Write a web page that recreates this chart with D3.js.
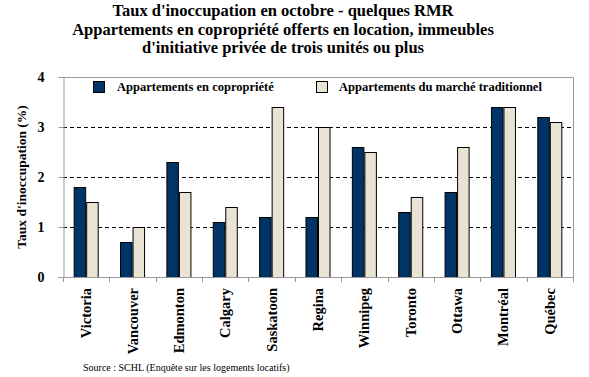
<!DOCTYPE html>
<html lang="fr">
<head>
  <meta charset="utf-8">
  <title>Taux d'inoccupation</title>
  <style>
    body { margin: 0; background: #fff; }
    text { font-family: "Liberation Serif", "Times New Roman", serif; fill: #000; }
  </style>
</head>
<body>
  <div id="chart"></div>
  <script src="https://d3js.org/d3.v7.min.js"></script>
  <script type="text/javascript">
    const villes = ['Victoria', 'Vancouver', 'Edmonton', 'Calgary', 'Saskatoon', 'Regina',
      'Winnipeg', 'Toronto', 'Ottawa', 'Montréal', 'Québec'];
    const copro = [1.8, 0.7, 2.3, 1.1, 1.2, 1.2, 2.6, 1.3, 1.7, 3.4, 3.2];
    const traditionnel = [1.5, 1.0, 1.7, 1.4, 3.4, 3.0, 2.5, 1.6, 2.6, 3.4, 3.1];
    const series = ['Appartements en copropriété', 'Appartements du marché traditionnel'];
    const yTicks = [0, 1, 2, 3, 4];
    const titre = [
      "Taux d'inoccupation en octobre - quelques RMR",
      "Appartements en copropriété offerts en location, immeubles",
      "d'initiative privée de trois unités ou plus"
    ];

    const width = 589;
    const height = 377;
    const margin = { top: 77, right: 16, bottom: 100, left: 63 };
    const colors = ['#003366', '#e8e3d3'];

    const rows = villes.map((v, i) => ({ ville: v, vals: [copro[i], traditionnel[i]] }));

    const svg = d3.select('#chart').append('svg')
      .attr('width', width)
      .attr('height', height);

    const x0 = d3.scaleBand()
      .domain(villes)
      .range([margin.left, width - margin.right])
      .paddingInner(0.46)
      .paddingOuter(0.23);
    const x1 = d3.scaleBand()
      .domain([0, 1])
      .range([0, x0.bandwidth()]);
    const y = d3.scaleLinear()
      .domain([0, 4])
      .range([height - margin.bottom, margin.top]);

    // title
    svg.append('g').selectAll('text')
      .data(titre)
      .enter().append('text')
      .attr('x', 283)
      .attr('y', (d, i) => 16 + i * 18.5)
      .attr('text-anchor', 'middle')
      .style('font-size', '16.5px')
      .style('font-weight', 'bold')
      .text(d => d);

    // grid lines
    svg.append('g').selectAll('line')
      .data(yTicks.filter(t => t > 0 && t < 4))
      .enter().append('line')
      .attr('x1', margin.left)
      .attr('x2', width - margin.right)
      .attr('y1', d => y(d) + 0.5)
      .attr('y2', d => y(d) + 0.5)
      .attr('stroke', '#000')
      .attr('stroke-dasharray', '4,3');

    // plot border top/right
    svg.append('path')
      .attr('d', `M${margin.left},${y(4) + 0.5}H${width - margin.right + 0.5}V${y(0)}`)
      .attr('fill', 'none')
      .attr('stroke', '#999');

    // bars
    const groups = svg.append('g').selectAll('g')
      .data(rows)
      .enter().append('g')
      .attr('transform', d => `translate(${x0(d.ville)},0)`);
    groups.selectAll('rect')
      .data(d => d.vals)
      .enter().append('rect')
      .attr('x', (d, i) => x1(i) + 0.5)
      .attr('y', d => y(d) + 0.5)
      .attr('width', x1.bandwidth() - 1)
      .attr('height', d => y(0) - y(d))
      .attr('fill', (d, i) => colors[i])
      .attr('stroke', '#000')
      .attr('stroke-width', 1);

    // y axis
    const yAxis = svg.append('g')
      .attr('transform', `translate(${margin.left + 0.5},0)`)
      .call(d3.axisLeft(y).tickValues(yTicks).tickSize(5).tickPadding(14).tickFormat(d3.format('d')));
    yAxis.select('.domain').attr('stroke', '#999');
    yAxis.selectAll('.tick line').attr('stroke', '#999');
    yAxis.selectAll('text')
      .style('font-size', '14px')
      .style('font-weight', 'bold')
      .style('font-family', '"Liberation Serif", serif');

    // x axis: ticks at category boundaries
    svg.append('line')
      .attr('x1', margin.left)
      .attr('x2', width - margin.right + 0.5)
      .attr('y1', y(0) + 0.5)
      .attr('y2', y(0) + 0.5)
      .attr('stroke', '#999');
    const step = x0.step();
    const start = x0(villes[0]) - x0.paddingOuter() * step;
    svg.append('g').selectAll('line')
      .data(d3.range(villes.length + 1))
      .enter().append('line')
      .attr('x1', i => Math.round(start + i * step) + 0.5)
      .attr('x2', i => Math.round(start + i * step) + 0.5)
      .attr('y1', y(0))
      .attr('y2', y(0) + 5)
      .attr('stroke', '#999');

    svg.append('g').selectAll('text')
      .data(villes)
      .enter().append('text')
      .attr('transform', d => `translate(${x0(d) + x0.bandwidth() / 2 + 5},${y(0) + 11}) rotate(-90)`)
      .attr('text-anchor', 'end')
      .style('font-size', '14.5px')
      .style('font-weight', 'bold')
      .text(d => d);

    // y axis title
    svg.append('text')
      .attr('transform', `translate(26,${(y(0) + y(4)) / 2}) rotate(-90)`)
      .attr('text-anchor', 'middle')
      .style('font-size', '13.5px')
      .style('font-weight', 'bold')
      .text("Taux d'inoccupation (%)");

    // legend
    const legendPos = [{ x: 93, tx: 117 }, { x: 316, tx: 339 }];
    const legend = svg.append('g').selectAll('g')
      .data(series)
      .enter().append('g');
    legend.append('rect')
      .attr('x', (d, i) => legendPos[i].x + 0.5)
      .attr('y', 81.5)
      .attr('width', 11)
      .attr('height', 11)
      .attr('fill', (d, i) => colors[i])
      .attr('stroke', '#000');
    legend.append('text')
      .attr('x', (d, i) => legendPos[i].tx)
      .attr('y', 91)
      .style('font-size', '12.5px')
      .style('font-weight', 'bold')
      .text(d => d);

    // source
    svg.append('text')
      .attr('x', 83)
      .attr('y', 371)
      .style('font-size', '10px')
      .text('Source : SCHL (Enquête sur les logements locatifs)');
  </script>
</body>
</html>
